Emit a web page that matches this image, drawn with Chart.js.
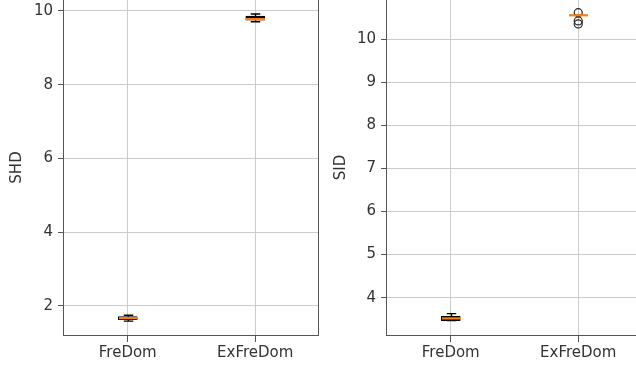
<!DOCTYPE html>
<html>
<head>
<meta charset="utf-8">
<script src="https://cdn.jsdelivr.net/npm/chart.js@4.4.0/dist/chart.umd.min.js"></script>
<style>
    html, body { margin: 0; padding: 0; width: 636px; height: 369px; overflow: hidden; background: #fff; }
    canvas { position: absolute; }
    #char_shd { left: 0; top: -21px; }
    #char_sid { left: 320px; top: -21px; }
</style>
</head>
<body>
<canvas id="char_shd" width="330" height="390"></canvas>
<canvas id="char_sid" width="330" height="390"></canvas>
<script>
// box plot statistics, one entry per category
var categories = ["FreDom", "ExFreDom"];

var shdWhiskerLow = [1.59, 9.71];
var shdQ1 = [1.63, 9.75];
var shdMedian = [1.67, 9.78];
var shdQ3 = [1.71, 9.86];
var shdWhiskerHigh = [1.75, 9.92];
var shdOutliers = [[], []];
var shdTicks = [2, 4, 6, 8, 10];

var sidWhiskerLow = [3.47, 10.55];
var sidQ1 = [3.47, 10.55];
var sidMedian = [3.52, 10.55];
var sidQ3 = [3.57, 10.55];
var sidWhiskerHigh = [3.63, 10.55];
var sidOutliers = [[], [10.61, 10.42, 10.35]];
var sidTicks = [4, 5, 6, 7, 8, 9, 10];

Chart.defaults.font.family = "'DejaVu Sans'";
Chart.defaults.font.size = 15;
Chart.defaults.color = "#333";

var BOX_W = 19;

function boxExtras(s) {
    return {
        id: "boxExtras",
        afterDatasetsDraw: function (chart) {
            var ctx = chart.ctx;
            var xs = chart.scales.x, ys = chart.scales.y;
            ctx.save();
            for (var i = 0; i < categories.length; i++) {
                var cx = Math.round(xs.getPixelForValue(i + 1)) + 0.5;
                var yLo = ys.getPixelForValue(s.lo[i]);
                var yQ1 = ys.getPixelForValue(s.q1[i]);
                var yQ3 = ys.getPixelForValue(s.q3[i]);
                var yHi = ys.getPixelForValue(s.hi[i]);
                var yMed = ys.getPixelForValue(s.med[i]);
                ctx.strokeStyle = "#000";
                ctx.lineWidth = 1.4;
                ctx.beginPath();
                ctx.moveTo(cx, yQ3); ctx.lineTo(cx, yHi);
                ctx.moveTo(cx, yQ1); ctx.lineTo(cx, yLo);
                ctx.moveTo(cx - BOX_W / 4, yHi); ctx.lineTo(cx + BOX_W / 4, yHi);
                ctx.moveTo(cx - BOX_W / 4, yLo); ctx.lineTo(cx + BOX_W / 4, yLo);
                ctx.stroke();
                ctx.strokeStyle = "#ff7f0e";
                ctx.lineWidth = 2.2;
                ctx.beginPath();
                ctx.moveTo(cx - BOX_W / 2, yMed); ctx.lineTo(cx + BOX_W / 2, yMed);
                ctx.stroke();
            }
            ctx.restore();
        },
        afterDraw: function (chart) {
            var a = chart.chartArea, ctx = chart.ctx;
            ctx.save();
            ctx.strokeStyle = "#555";
            ctx.lineWidth = 1;
            ctx.strokeRect(Math.round(a.left) - 0.5, Math.round(a.top) + 0.5,
                Math.round(a.right - a.left), Math.round(a.bottom - a.top) - 1);
            ctx.restore();
        }
    };
}

function makeBoxChart(id, s, ticks, title, yMin, yMax, axisW, padRight, titlePad) {
    var canvas = document.getElementById(id);
    if (canvas == null) return;
    var outlierPoints = [];
    s.out.forEach(function (list, i) {
        list.forEach(function (v) { outlierPoints.push({ x: i + 1, y: v }); });
    });
    return new Chart(canvas.getContext("2d"), {
        type: "bar",
        data: {
            datasets: [
                {
                    data: categories.map(function (c, i) { return { x: i + 1, y: [s.q1[i], s.q3[i]] }; }),
                    backgroundColor: "rgba(0,0,0,0)",
                    borderColor: "#000",
                    borderWidth: 1.5,
                    borderSkipped: false,
                    barThickness: BOX_W,
                },
                {
                    type: "scatter",
                    data: outlierPoints,
                    pointStyle: "circle",
                    pointRadius: 4,
                    borderColor: "#222",
                    backgroundColor: "rgba(0,0,0,0)",
                    borderWidth: 1.2,
                },
            ],
        },
        options: {
            responsive: false,
            animation: false,
            layout: { padding: { top: 20, right: padRight, bottom: 0, left: 0 } },
            plugins: {
                legend: { display: false },
                tooltip: { enabled: false },
            },
            scales: {
                x: {
                    type: "linear",
                    min: 0.5,
                    max: 2.5,
                    offset: false,
                    grid: { offset: false, color: "#cccccc", tickColor: "#555", tickLength: 6 },
                    border: { display: false },
                    ticks: {
                        padding: 2,
                        callback: function (v) { return categories[v - 1]; },
                    },
                    afterBuildTicks: function (sc) {
                        sc.ticks = categories.map(function (c, i) { return { value: i + 1 }; });
                    },
                    afterFit: function (sc) { sc.height = 33; },
                },
                y: {
                    type: "linear",
                    min: yMin,
                    max: yMax,
                    beginAtZero: false,
                    grid: { color: "#cccccc", tickColor: "#555", tickLength: 6 },
                    border: { display: false },
                    title: { display: true, text: title, padding: { top: titlePad, bottom: 0 } },
                    ticks: {
                        padding: 5,
                        callback: function (v) { return String(v); },
                    },
                    afterBuildTicks: function (sc) {
                        sc.ticks = ticks.map(function (v) { return { value: v }; });
                    },
                    afterFit: function (sc) { sc.width = axisW; },
                },
            },
        },
        plugins: [boxExtras(s)],
    });
}

makeBoxChart("char_shd",
    { lo: shdWhiskerLow, q1: shdQ1, med: shdMedian, q3: shdQ3, hi: shdWhiskerHigh, out: shdOutliers },
    shdTicks, "SHD", 1.186, 10.325, 64, 11, 8);

makeBoxChart("char_sid",
    { lo: sidWhiskerLow, q1: sidQ1, med: sidMedian, q3: sidQ3, hi: sidWhiskerHigh, out: sidOutliers },
    sidTicks, "SID", 3.112, 10.928, 67, 8, 12);
</script>
</body>
</html>
